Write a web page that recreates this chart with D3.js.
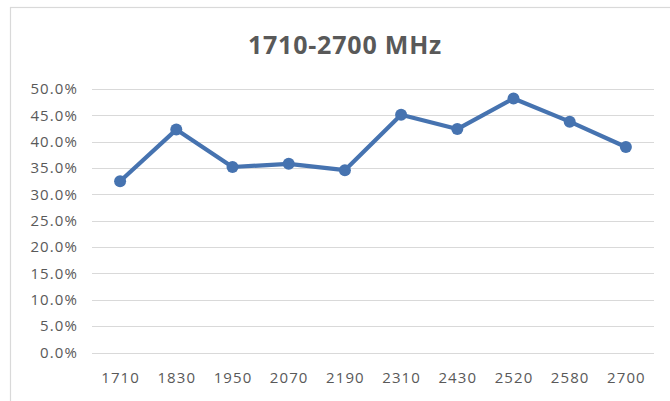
<!DOCTYPE html>
<html>
<head>
<meta charset="utf-8">
<script src="https://cdn.jsdelivr.net/npm/d3@7"></script>
<style>
  body { margin: 0; background: #fff; }
  svg { display: block; }
</style>
</head>
<body>
<div id="chart"></div>
<script>
// Chart data
const title = "1710-2700 MHz";
const categories = ["1710", "1830", "1950", "2070", "2190", "2310", "2430", "2520", "2580", "2700"];
const values = [0.325, 0.423, 0.352, 0.358, 0.346, 0.451, 0.424, 0.482, 0.438, 0.390];
const yTicks = [0, 0.05, 0.10, 0.15, 0.20, 0.25, 0.30, 0.35, 0.40, 0.45, 0.50];

const W = 670, H = 401;
const margin = { top: 89, right: 16, bottom: 48.5, left: 92 };
const width = 654 - margin.left, height = 352.5 - margin.top;
const font = "'Open Sans', 'Noto Sans', sans-serif";

const svg = d3.select("#chart").append("svg")
    .attr("width", W)
    .attr("height", H);

// Outer chart border (runs off the window on right and bottom)
svg.append("rect")
    .attr("x", 10.5).attr("y", 7.5)
    .attr("width", 700).attr("height", 420)
    .attr("fill", "#fff")
    .attr("stroke", "#d9d9d9")
    .attr("stroke-width", 1.2);

// Title
svg.append("text")
    .attr("x", 345).attr("y", 54)
    .attr("text-anchor", "middle")
    .attr("font-family", font)
    .attr("font-weight", "bold")
    .attr("font-size", 25)
    .attr("letter-spacing", 0.8)
    .attr("fill", "#595959")
    .text(title);

const g = svg.append("g")
    .attr("transform", `translate(${margin.left},${margin.top})`);

const x = d3.scalePoint()
    .domain(categories)
    .range([0, width])
    .padding(0.5);

const y = d3.scaleLinear()
    .domain([0, 0.5])
    .range([height, 0]);

// Gridlines
g.append("g")
  .selectAll("line")
  .data(yTicks)
  .join("line")
    .attr("x1", 0).attr("x2", width)
    .attr("y1", d => Math.round(y(d)) + 0.5)
    .attr("y2", d => Math.round(y(d)) + 0.5)
    .attr("stroke", "#d9d9d9")
    .attr("stroke-width", 1.2);

// Y axis labels
const yAxis = g.append("g")
    .call(d3.axisLeft(y).tickValues(yTicks).tickFormat(d3.format(".1%")).tickSize(0).tickPadding(14));
yAxis.select(".domain").remove();
yAxis.selectAll("text")
    .attr("font-family", font)
    .attr("font-size", 15)
    .attr("letter-spacing", 1.1)
    .attr("fill", "#595959");

// X axis labels
const xAxis = g.append("g")
    .attr("transform", `translate(0,${height})`)
    .call(d3.axisBottom(x).tickSize(0).tickPadding(20));
xAxis.select(".domain").remove();
xAxis.selectAll("text")
    .attr("font-family", font)
    .attr("font-size", 15)
    .attr("letter-spacing", 1.1)
    .attr("fill", "#595959");

// Line
const color = "#4673b0";
g.append("path")
    .datum(values)
    .attr("fill", "none")
    .attr("stroke", color)
    .attr("stroke-width", 4.2)
    .attr("stroke-linejoin", "round")
    .attr("d", d3.line()
      .x((d, i) => x(categories[i]))
      .y(d => y(d)));

// Markers
g.append("g")
  .selectAll("circle")
  .data(values)
  .join("circle")
    .attr("cx", (d, i) => x(categories[i]))
    .attr("cy", d => y(d))
    .attr("r", 6)
    .attr("fill", color);
</script>
</body>
</html>
